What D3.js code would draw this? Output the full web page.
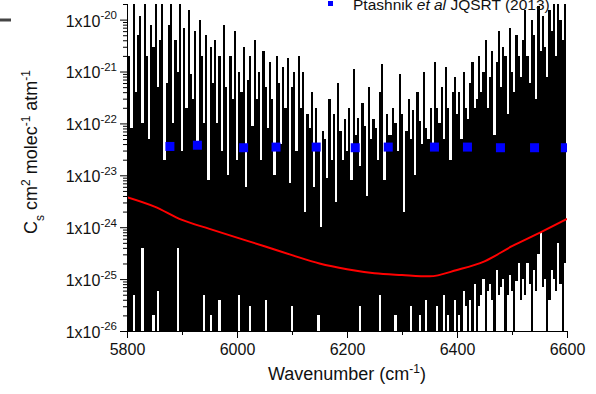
<!DOCTYPE html>
<html>
<head>
<meta charset="utf-8">
<script src="https://cdn.jsdelivr.net/npm/d3@7"></script>
<style>
  body { margin: 0; background: #fff; }
  svg { display: block; font-family: 'Liberation Sans', Arial, sans-serif; }
</style>
</head>
<body>
<svg id="chart"></svg>
<script>
// measured spectrum, one peak + one trough every 4 cm-1 (troughs of 1e-27 sit below the axis)
const specStart = 5800;
const specStep = 4;
const specPeaks = [
    3e-20, 2e-21, 8e-23, 3e-20, 4e-22, 5e-21, 1.2e-20, 1e-22, 3e-20, 2e-21,
    5e-23, 8e-21, 3e-21, 3e-20, 5e-22, 4e-21, 2e-20, 2e-23, 6e-22, 8e-21,
    3e-20, 1e-22, 4e-21, 1e-21, 3e-20, 3e-23, 7e-21, 2e-22, 1.5e-20, 9e-22,
    3e-22, 6e-21, 4e-23, 1e-20, 2e-21, 1e-22, 5e-21, 8e-24, 3e-21, 6e-22,
    4e-21, 1e-22, 2e-21, 3e-23, 8e-21, 5e-22, 1e-23, 2e-21, 3e-22, 6e-21,
    2e-23, 1e-21, 4e-22, 3e-21, 6e-24, 7e-22, 2e-21, 9e-23, 4e-21, 3e-22,
    1e-21, 2e-23, 2.5e-21, 5e-22, 8e-23, 1.5e-21, 3e-22, 1e-23, 2e-21, 6e-22,
    4e-23, 1.2e-21, 2e-22, 1.8e-21, 7e-24, 5e-22, 1e-21, 3e-23, 2e-21, 2e-22,
    1e-21, 2e-24, 1.5e-22, 8e-23, 4e-22, 6e-24, 2e-22, 4e-23, 1e-24, 7e-23,
    5e-23, 9e-24, 3e-22, 2e-23, 1.5e-22, 3e-24, 6e-22, 7e-23, 2e-23, 1.2e-22,
    3e-23, 2e-22, 8e-24, 1.1e-21, 6e-23, 1.3e-22, 1.5e-23, 2.5e-22, 9e-23, 4e-24,
    5e-22, 5e-23, 1.2e-22, 8e-23, 2e-23, 4e-22, 1.4e-21, 8e-24, 1.5e-22, 6e-23,
    6e-23, 2e-22, 1e-22, 3e-23, 9e-22, 1.5e-22, 2e-24, 7e-23, 3e-22, 5e-23,
    1.8e-22, 1e-23, 4e-22, 1.1e-22, 4e-23, 1e-21, 8e-23, 5e-23, 2e-22, 3e-23,
    1.5e-21, 2e-22, 1e-22, 5e-22, 5e-23, 1.2e-21, 2e-22, 2e-23, 4e-22, 8e-22,
    1.5e-22, 4e-22, 5e-23, 1e-21, 2e-22, 1.2e-22, 6e-22, 1.5e-21, 2e-22, 3e-22,
    2e-21, 4e-22, 1e-21, 4e-21, 2e-22, 8e-22, 2.5e-21, 6e-23, 1.5e-21, 6e-21,
    5e-22, 3e-21, 2e-21, 1.5e-22, 7e-21, 1e-21, 4e-22, 5e-21, 2e-21, 8e-22,
    4e-21, 1.5e-20, 2e-21, 6e-22, 1e-20, 5e-21, 3e-22, 1.8e-20, 2.5e-21, 1.2e-20,
    3e-21, 8e-22, 1.5e-20, 6e-21, 3e-20, 2e-21, 3e-20, 1e-20, 4e-21, 3e-20
];
const specTroughs = [
    2e-26, 1e-27, 1e-27, 5e-26, 1e-27, 1e-27, 1e-27, 4e-25, 1e-27, 1e-27,
    1e-27, 1e-27, 2e-26, 1e-27, 6e-26, 1e-27, 1e-27, 1e-27, 1e-27, 1e-27,
    1e-27, 1e-27, 1e-27, 4e-25, 1e-27, 1e-27, 1e-27, 1e-27, 1e-27, 1e-27,
    1e-27, 1e-27, 1e-27, 1e-27, 1e-27, 5e-26, 1e-27, 1e-27, 2e-26, 1e-27,
    1e-27, 1e-27, 4e-26, 1e-27, 1e-27, 1e-27, 1e-27, 1e-27, 1e-27, 1e-27,
    1e-27, 5e-26, 1e-27, 1e-27, 1e-27, 1e-27, 3e-26, 1e-27, 1e-27, 1e-27,
    1e-27, 1e-27, 1e-27, 4e-26, 1e-27, 1e-27, 1e-27, 1e-27, 1e-27, 1e-27,
    1e-27, 1e-27, 1e-27, 1e-27, 1e-27, 3e-26, 1e-27, 1e-27, 1e-27, 1e-27,
    1e-27, 1e-27, 1e-27, 1e-27, 1e-27, 1e-27, 1e-27, 2e-26, 1e-27, 1e-27,
    1e-27, 1e-27, 1e-27, 1e-27, 1e-27, 1e-27, 1e-27, 1e-27, 1e-27, 1e-27,
    1e-27, 1e-27, 1e-27, 1e-27, 1e-27, 1e-27, 3e-26, 1e-27, 1e-27, 1e-27,
    1e-27, 1e-27, 1e-27, 1e-27, 1e-27, 5e-26, 1e-27, 1e-27, 1e-27, 1e-27,
    1e-27, 1e-27, 2e-26, 1e-27, 1e-27, 1e-27, 1e-27, 1e-27, 1e-27, 3e-26,
    1e-27, 1e-27, 1e-27, 2e-26, 1e-27, 1e-27, 4e-26, 1e-27, 1e-27, 1e-27,
    1e-27, 3e-26, 1e-27, 1e-27, 5e-26, 1e-27, 2e-26, 1e-27, 1e-27, 4e-26,
    1e-27, 2e-26, 1e-27, 6e-26, 3e-26, 1e-27, 4e-26, 1e-27, 8e-26, 1e-27,
    3e-26, 5e-26, 1e-25, 1e-27, 6e-26, 8e-26, 4e-26, 1e-27, 1.5e-25, 5e-26,
    7e-26, 1e-25, 1e-27, 5e-26, 1.2e-25, 6e-26, 1e-27, 9e-26, 2e-25, 4e-26,
    1e-25, 5e-26, 2e-25, 8e-26, 1e-27, 1.5e-25, 6e-26, 3e-25, 8e-25, 7e-26,
    1e-25, 1e-27, 4e-26, 1.5e-25, 1e-25, 6e-26, 5e-25, 8e-26, 1e-27, 2e-25
];

// red continuum curve
const contWn = [5800, 5850, 5900, 5950, 6000, 6050, 6100, 6150, 6200, 6250, 6300, 6350, 6400, 6450, 6500, 6550, 6600];
const contVals = [3.8e-24, 2.5e-24, 1.38e-24, 9.3e-25, 6.3e-25, 4.3e-25, 2.9e-25, 2.0e-25, 1.55e-25, 1.3e-25, 1.2e-25, 1.13e-25, 1.5e-25, 2.2e-25, 4.3e-25, 7.8e-25, 1.45e-24];

// Ptashnik et al JQSRT (2013)
const ptWn = [5878, 5928, 6012, 6071, 6144, 6215, 6275, 6359, 6419, 6479, 6541, 6597];
const ptVals = [3.6e-23, 3.8e-23, 3.4e-23, 3.5e-23, 3.5e-23, 3.4e-23, 3.5e-23, 3.5e-23, 3.5e-23, 3.4e-23, 3.4e-23, 3.4e-23];

const xTicks = [5800, 6000, 6200, 6400, 6600];
const xMinor = [5900, 6100, 6300, 6500];
const yTicks = [1e-26, 1e-25, 1e-24, 1e-23, 1e-22, 1e-21, 1e-20];
const yExp = ['-26', '-25', '-24', '-23', '-22', '-21', '-20'];

const W = 596, H = 394;
const margin = {top: 4, right: 29, bottom: 63, left: 127};
const width = W - margin.left - margin.right;
const height = H - margin.top - margin.bottom;

const svg = d3.select('#chart')
    .attr('width', W)
    .attr('height', H);

const x = d3.scaleLinear().domain([5800, 6600]).range([0, width]);
const y = d3.scaleLog().domain([1e-26, 2e-20]).range([height, 0]).clamp(true);

svg.append('defs').append('clipPath')
    .attr('id', 'plot-clip')
    .append('rect')
    .attr('width', width)
    .attr('height', height);

const g = svg.append('g')
    .attr('transform', `translate(${margin.left},${margin.top})`);

const plot = g.append('g').attr('clip-path', 'url(#plot-clip)');

// spectrum: each sample drawn as a stroke from its trough up to its peak
plot.append('g')
    .attr('shape-rendering', 'crispEdges')
    .selectAll('rect')
    .data(specPeaks)
    .enter()
    .append('rect')
    .attr('x', (d, i) => x(specStart + i * specStep - specStep / 2))
    .attr('width', x(specStart + specStep) - x(specStart))
    .attr('y', d => y(d))
    .attr('height', (d, i) => y(specTroughs[i]) - y(d))
    .attr('fill', '#000');

plot.append('path')
    .datum(contWn.map((w, i) => [w, contVals[i]]))
    .attr('fill', 'none')
    .attr('stroke', '#f00')
    .attr('stroke-width', 2)
    .attr('d', d3.line().curve(d3.curveMonotoneX).x(d => x(d[0])).y(d => y(d[1])));

const sq = 9;
plot.selectAll('rect.pt')
    .data(ptWn)
    .enter()
    .append('rect')
    .attr('class', 'pt')
    .attr('x', d => x(d) - sq / 2)
    .attr('y', (d, i) => y(ptVals[i]) - sq / 2)
    .attr('width', sq)
    .attr('height', sq)
    .attr('fill', '#0000ff');

// x axis
const xAxis = g.append('g')
    .attr('transform', `translate(0,${height})`)
    .call(d3.axisBottom(x).tickValues(xTicks).tickSize(7).tickSizeOuter(0).tickPadding(5.6).tickFormat(d3.format('d')));
xAxis.selectAll('text').attr('font-size', 16).attr('fill', '#111').attr('font-family', null);
g.append('g')
    .attr('transform', `translate(0,${height})`)
    .call(d3.axisBottom(x).tickValues(xMinor).tickSize(4).tickFormat(''))
    .select('.domain').remove();

// y axis
const minorY = y.ticks().filter(v => !yTicks.some(t => Math.abs(t - v) / t < 1e-6));
g.append('g')
    .call(d3.axisLeft(y).tickValues(minorY).tickSize(4).tickFormat(''))
    .select('.domain').remove();
const yAxis = g.append('g')
    .call(d3.axisLeft(y).tickValues(yTicks).tickSize(7).tickSizeOuter(0).tickFormat(''));

yAxis.selectAll('.tick').each(function(d, i) {
    const t = d3.select(this).append('text')
        .attr('x', -10)
        .attr('dy', '0.4em')
        .attr('text-anchor', 'end')
        .attr('fill', '#111')
        .attr('font-size', 16);
    t.append('tspan').text('1x10');
    t.append('tspan').attr('dy', -7.5).attr('font-size', 11.5).text(yExp[i]);
});
g.selectAll('.domain, .tick line').attr('stroke', '#000');

// axis titles
const xt = svg.append('text')
    .attr('x', margin.left + width / 2)
    .attr('y', 380)
    .attr('text-anchor', 'middle')
    .attr('font-size', 18)
    .attr('fill', '#111');
xt.append('tspan').text('Wavenumber (cm');
xt.append('tspan').attr('dy', -7.5).attr('font-size', 12).text('-1');
xt.append('tspan').attr('dy', 7.5).text(')');

const yt = svg.append('text')
    .attr('transform', 'translate(37,152) rotate(-90)')
    .attr('text-anchor', 'middle')
    .attr('font-size', 18)
    .attr('fill', '#111');
yt.append('tspan').text('C');
yt.append('tspan').attr('dy', 7).attr('font-size', 12).text('s');
yt.append('tspan').attr('dy', -7).text(' cm');
yt.append('tspan').attr('dy', -7).attr('font-size', 12).text('2');
yt.append('tspan').attr('dy', 7).text(' molec');
yt.append('tspan').attr('dy', -7).attr('font-size', 12).text('-1');
yt.append('tspan').attr('dy', 7).text(' atm');
yt.append('tspan').attr('dy', -7).attr('font-size', 12).text('-1');

// legend (top, partly cut off as in the source figure)
svg.append('line')
    .attr('x1', 0).attr('x2', 11)
    .attr('y1', 20).attr('y2', 20)
    .attr('stroke', '#444')
    .attr('stroke-width', 3);

svg.append('rect')
    .attr('x', 328).attr('y', 1)
    .attr('width', 5).attr('height', 5)
    .attr('fill', '#0000ff');
const lg = svg.append('text')
    .attr('x', 353)
    .attr('y', 10)
    .attr('font-size', 15.5)
    .attr('fill', '#111');
lg.append('tspan').text('Ptashnik ');
lg.append('tspan').attr('font-style', 'italic').text('et al');
lg.append('tspan').text(' JQSRT (2013)');
</script>
</body>
</html>
